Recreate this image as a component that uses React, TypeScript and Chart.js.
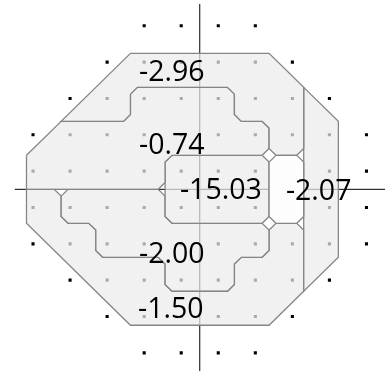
import React, { useEffect, useRef } from "react";
import { Chart, registerables } from "chart.js";

Chart.register(...registerables);

// ---- test locations (30-2 grid), one entry per row ----
const rowY = [4.5, 3.5, 2.5, 1.5, 0.5, -0.5, -1.5, -2.5, -3.5, -4.5];
const rowX = [
  [-1.5, -0.5, 0.5, 1.5],
  [-2.5, -1.5, -0.5, 0.5, 1.5, 2.5],
  [-3.5, -2.5, -1.5, -0.5, 0.5, 1.5, 2.5, 3.5],
  [-4.5, -3.5, -2.5, -1.5, -0.5, 0.5, 1.5, 2.5, 3.5, 4.5],
  [-4.5, -3.5, -2.5, -1.5, -0.5, 0.5, 1.5, 2.5, 3.5, 4.5],
  [-4.5, -3.5, -2.5, -1.5, -0.5, 0.5, 1.5, 2.5, 3.5, 4.5],
  [-4.5, -3.5, -2.5, -1.5, -0.5, 0.5, 1.5, 2.5, 3.5, 4.5],
  [-3.5, -2.5, -1.5, -0.5, 0.5, 1.5, 2.5, 3.5],
  [-2.5, -1.5, -0.5, 0.5, 1.5, 2.5],
  [-1.5, -0.5, 0.5, 1.5],
];

// ---- sector values ----
const sectorValues = [-2.96, -0.74, -15.03, -2.07, -2.0, -1.5];

// sector outlines on the sector-cell lattice
const sectorCells: number[][][] = [
  [[-2, 4], [2, 4], [3, 3], [3, 1], [2, 1], [2, 2], [1, 2], [1, 3], [-2, 3], [-2, 2], [-4, 2]],
  [[-5, 1], [-4, 2], [-2, 2], [-2, 3], [1, 3], [1, 2], [2, 2], [2, 1], [-1, 1], [-1, 0], [-5, 0]],
  [[-1, 1], [2, 1], [2, -1], [-1, -1]],
  [[3, 3], [4, 2], [4, -2], [3, -3], [3, -1], [3, 1]],
  [[-4, 0], [-1, 0], [-1, -1], [2, -1], [2, -2], [1, -2], [1, -3], [-1, -3], [-1, -2], [-3, -2], [-3, -1], [-4, -1]],
  [[-5, 0], [-4, 0], [-4, -1], [-3, -1], [-3, -2], [-1, -2], [-1, -3], [1, -3], [1, -2], [2, -2], [2, -1], [3, -1], [3, -3], [2, -4], [-2, -4], [-5, -1]],
];
const blindSpotCells: number[][] = [[2, 1], [3, 1], [3, -1], [2, -1]];
const outerCells: number[][] = [[-2, 4], [2, 4], [4, 2], [4, -2], [2, -4], [-2, -4], [-5, -1], [-5, 1]];

// label anchors (data units)
const labelX = [-0.755, -0.755, 0.57, 3.21, -0.755, -0.78];
const labelY = [2.98, 0.96, -0.27, -0.3, -2.035, -3.545];

// ---- layout / style constants ----
const CELL = 34.7 / 37.1; // data units per sector cell
const CUT = 0.2; // corner cut in cells
const FILL = "rgba(236,236,236,0.72)";
const STROKE = "#858585";

function onSeg(p: number[], a: number[], b: number[]) {
  const cross = (b[0] - a[0]) * (p[1] - a[1]) - (b[1] - a[1]) * (p[0] - a[0]);
  if (Math.abs(cross) > 1e-9) return false;
  return (
    p[0] >= Math.min(a[0], b[0]) - 1e-9 && p[0] <= Math.max(a[0], b[0]) + 1e-9 &&
    p[1] >= Math.min(a[1], b[1]) - 1e-9 && p[1] <= Math.max(a[1], b[1]) + 1e-9
  );
}
function onOuter(p: number[]) {
  for (let i = 0; i < outerCells.length; i++) {
    if (onSeg(p, outerCells[i], outerCells[(i + 1) % outerCells.length])) return true;
  }
  return false;
}
function shape(poly: number[][]) {
  const out: { x: number; y: number }[] = [];
  const n = poly.length;
  for (let i = 0; i < n; i++) {
    const p = poly[(i - 1 + n) % n], v = poly[i], q = poly[(i + 1) % n];
    const d1 = [p[0] - v[0], p[1] - v[1]];
    const d2 = [q[0] - v[0], q[1] - v[1]];
    const ax1 = d1[0] === 0 || d1[1] === 0;
    const ax2 = d2[0] === 0 || d2[1] === 0;
    const perp = d1[0] * d2[0] + d1[1] * d2[1] === 0;
    if (ax1 && ax2 && perp && !onOuter(v)) {
      const l1 = Math.hypot(d1[0], d1[1]), l2 = Math.hypot(d2[0], d2[1]);
      out.push({ x: (v[0] + (d1[0] / l1) * CUT) * CELL, y: (v[1] + (d1[1] / l1) * CUT) * CELL });
      out.push({ x: (v[0] + (d2[0] / l2) * CUT) * CELL, y: (v[1] + (d2[1] / l2) * CUT) * CELL });
    } else {
      out.push({ x: v[0] * CELL, y: v[1] * CELL });
    }
  }
  out.push({ ...out[0] });
  return out;
}

const labelPlugin = {
  id: "sectorLabels",
  afterDatasetsDraw(chart: any) {
    const { ctx, scales } = chart;
    ctx.save();
    ctx.font = '28.5px "Open Sans"';
    ctx.fillStyle = "#000";
    ctx.textAlign = "center";
    ctx.textBaseline = "alphabetic";
    sectorValues.forEach((v, i) => {
      ctx.fillText(v.toFixed(2), scales.x.getPixelForValue(labelX[i]), scales.y.getPixelForValue(labelY[i]));
    });
    ctx.restore();
  },
};

export default function App() {
  const ref = useRef<HTMLCanvasElement>(null);
  useEffect(() => {
    if (!ref.current) return;
    const points: { x: number; y: number }[] = [];
    rowY.forEach((y, r) => rowX[r].forEach((x) => points.push({ x, y })));

    const datasets: any[] = [
      {
        type: "scatter",
        data: points,
        pointStyle: "rect",
        pointRadius: 2.2,
        pointBackgroundColor: "#000",
        pointBorderWidth: 0,
        order: 10,
      },
      {
        type: "line",
        data: [{ x: -5, y: 0 }, { x: 5, y: 0 }],
        showLine: true,
        borderColor: "#000",
        borderWidth: 1,
        pointRadius: 0,
        fill: false,
        order: 9,
      },
      {
        type: "line",
        data: [{ x: 0, y: -5 }, { x: 0, y: 5.1 }],
        showLine: true,
        borderColor: "#000",
        borderWidth: 1,
        pointRadius: 0,
        fill: false,
        order: 9,
      },
    ];
    sectorCells.forEach((poly) => {
      datasets.push({
        type: "line",
        data: shape(poly),
        showLine: true,
        borderColor: STROKE,
        borderWidth: 1.3,
        backgroundColor: FILL,
        fill: "shape",
        pointRadius: 0,
        tension: 0,
        order: 5,
      });
    });
    datasets.push({
      type: "line",
      data: shape(blindSpotCells),
      showLine: true,
      borderColor: STROKE,
      borderWidth: 1.3,
      backgroundColor: "#fdfdfd",
      fill: "shape",
      pointRadius: 0,
      tension: 0,
      order: 1,
    });

    const chart = new Chart(ref.current, {
      type: "scatter",
      data: { datasets },
      options: {
        animation: false,
        responsive: false,
        devicePixelRatio: 1,
        events: [],
        layout: { padding: { left: 14.5, right: 3.5, top: 0, bottom: 0 } },
        scales: {
          x: { type: "linear", min: -5, max: 5, display: false },
          y: { type: "linear", min: -5, max: 5.1, display: false },
        },
        plugins: { legend: { display: false }, tooltip: { enabled: false } },
      },
      plugins: [labelPlugin],
    });
    return () => chart.destroy();
  }, []);
  return (
    <div style={{ position: "absolute", left: 0, top: 0, width: 389, height: 375, background: "#fff" }}>
      <canvas ref={ref} width={389} height={375} style={{ display: "block" }} />
    </div>
  );
}
